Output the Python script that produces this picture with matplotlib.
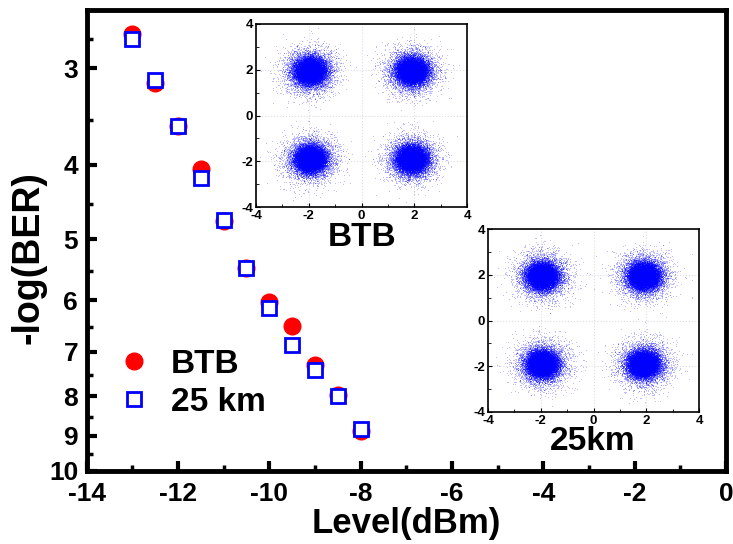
import numpy as np
import matplotlib.pyplot as plt
from matplotlib.ticker import FixedLocator, NullFormatter, MultipleLocator

plt.rcParams['font.family'] = ['Liberation Sans', 'DejaVu Sans']
plt.rcParams['font.weight'] = 'bold'
plt.rcParams['axes.unicode_minus'] = False

# BER curves
level = [-13, -12.5, -12, -11.5, -11, -10.5, -10, -9.5, -9, -8.5, -8]
btb = [2.71, 3.13, 3.57, 4.05, 4.73, 5.45, 6.04, 6.49, 7.29, 7.97, 8.87]
km25 = [2.75, 3.11, 3.57, 4.17, 4.72, 5.45, 6.14, 6.86, 7.40, 8.00, 8.81]
yticks = [3, 4, 5, 6, 7, 8, 9, 10]

# QPSK constellation: symbol centres and spread
centres_btb = [(-1.95, 1.95), (1.9, 1.95), (-1.95, -1.9), (1.9, -1.9)]
centres_25 = [(-1.95, 1.95), (1.9, 1.95), (-1.95, -1.9), (1.9, -1.9)]
core_spread = 0.28
halo_spread = 0.5
n_core = 16000
n_halo = 4000

fig = plt.figure(figsize=(7.33, 5.44), dpi=100)
ax = fig.add_axes([86.5/733, 1-471/544, (726-86.5)/733, (471-10)/544])

ax.plot(level, btb, 'o', color='red', markersize=12, label='BTB', zorder=3)
ax.plot(level, km25, 's', mfc='white', mec='blue', mew=2, markersize=10,
        label='25 km', zorder=4)

ax.set_yscale('log')
ax.set_ylim(10, 2.52)
ax.set_xlim(-14, 0)
ax.yaxis.set_major_locator(FixedLocator(yticks))
ax.yaxis.set_major_formatter(plt.FixedFormatter([str(t) for t in yticks]))
ax.yaxis.set_minor_locator(FixedLocator([2.75, 3.5, 4.5, 5.5, 6.5, 7.5, 8.5, 9.5]))
ax.yaxis.set_minor_formatter(NullFormatter())
ax.xaxis.set_major_locator(MultipleLocator(2))
ax.xaxis.set_minor_locator(MultipleLocator(1))

ax.tick_params(which='major', direction='in', length=7, width=3, labelsize=19, pad=6)
ax.tick_params(axis='x', which='major', pad=8)
ax.tick_params(which='minor', direction='in', length=4, width=2.5)
for s in ax.spines.values():
    s.set_linewidth(3.5)
for lab in ax.get_xticklabels() + ax.get_yticklabels():
    lab.set_fontweight('bold')

ax.set_xlabel('Level(dBm)', fontsize=25, fontweight='bold')
ax.xaxis.set_label_coords(0.5, -0.078)
ax.set_ylabel('-log(BER)', fontsize=27, fontweight='bold')
ax.yaxis.set_label_coords(-0.062, 0.462)

ax.legend(loc='center left', bbox_to_anchor=(0.048, 0.19), frameon=False,
          prop={'size': 24, 'weight': 'bold'}, handlelength=1.0,
          handletextpad=0.6, labelspacing=0.2, borderpad=0, borderaxespad=0)

# seeded noise only to render the received-symbol clouds
rng = np.random.default_rng(7)


def inset(rect, centres, title, tx, ty):
    a = fig.add_axes(rect)
    for cx, cy in centres:
        pts = np.vstack([rng.normal(0, core_spread, size=(n_core, 2)),
                         rng.normal(0, halo_spread, size=(n_halo, 2))])
        a.plot(cx + pts[:, 0], cy + pts[:, 1], '.', color='blue',
               markersize=0.9, alpha=0.45, mew=0, rasterized=True)
    a.set_xlim(-4, 4)
    a.set_ylim(-4, 4)
    a.xaxis.set_major_locator(MultipleLocator(2))
    a.yaxis.set_major_locator(MultipleLocator(2))
    a.xaxis.set_minor_locator(MultipleLocator(1))
    a.yaxis.set_minor_locator(MultipleLocator(1))
    a.tick_params(which='both', direction='in', labelsize=9.5, pad=2)
    a.tick_params(which='major', length=3)
    a.tick_params(which='minor', length=2)
    for lab in a.get_xticklabels() + a.get_yticklabels():
        lab.set_fontweight('bold')
    a.grid(True, which='major', color='#dddddd', linestyle=':', linewidth=0.8)
    for s in a.spines.values():
        s.set_linewidth(1.2)
    fig.text(tx, ty, title, fontsize=24, fontweight='bold', ha='center', va='center')


inset([256/733, 1-207/544, 211/733, 183/544], centres_btb,
      'BTB', 362/733, 1-237/544)
inset([488/733, 1-412/544, 211/733, 183/544], centres_25,
      '25km', 593/733, 1-441/544)

fig.savefig('out.png', dpi=100)
